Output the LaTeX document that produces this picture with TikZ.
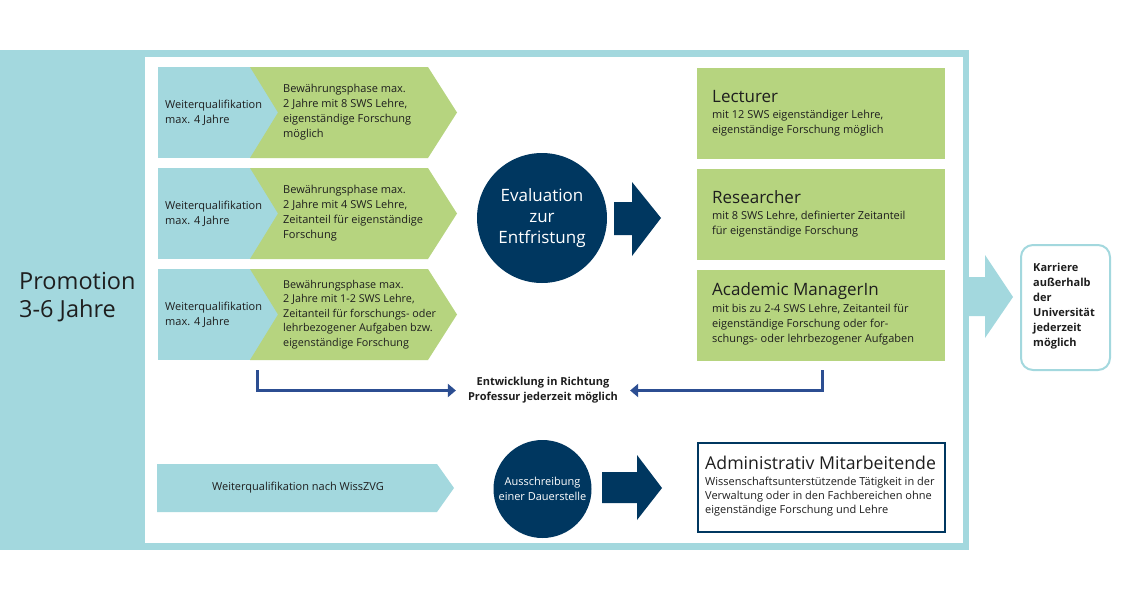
\documentclass[tikz,border=0pt]{standalone}
\usepackage{fontspec}
\setmainfont{Open Sans}
\usetikzlibrary{arrows.meta,positioning,calc}
\definecolor{lightblue}{RGB}{163,216,222}
\definecolor{leafgreen}{RGB}{182,212,127}
\definecolor{navy}{RGB}{0,55,96}
\definecolor{linkblue}{RGB}{44,78,146}
\definecolor{ink}{RGB}{30,30,30}
\tikzstyle{Rolebox}=[shape=rectangle,fill=leafgreen,minimum width=248pt,minimum height=91pt,inner sep=0pt]
\tikzstyle{Navycirc}=[shape=circle,fill=navy,text=white,align=center,inner sep=0pt]
\tikzstyle{smalltext}=[font=\fontsize{11}{15}\selectfont,align=left,anchor=west,inner sep=0pt,text=ink]
\tikzstyle{titletext}=[font=\fontsize{17}{20}\selectfont,anchor=west,inner sep=0pt,text=ink]
\tikzstyle{devedge}=[-{Triangle[length=8pt,width=13pt]},draw=linkblue,line width=3pt]

\begin{document}
\begin{tikzpicture}[x=1pt,y=-1pt]
\useasboundingbox (0,0) rectangle (1125,600);

% frame
\fill[lightblue] (0,50) rectangle (969,550);
\fill[white] (145,57) rectangle (963,543);
\node[font=\fontsize{23.5}{28}\selectfont,align=left,anchor=west,inner sep=0pt,text=ink] (promo) at (19,297.5) {Promotion\\3-6 Jahre};

% rows
\foreach \t/\b in {67/158,168/259,269/360}{
  \fill[lightblue] (158,\t) rectangle (278,\b);
  \fill[leafgreen] (250,\t) -- (428,\t) -- (457,{(\t+\b)/2}) -- (428,\b) -- (250,\b) -- (278,{(\t+\b)/2}) -- cycle;
}
\node[smalltext] (wq1) at (165,112.5) {Weiterqualifikation\\max. 4 Jahre};
\node[smalltext] (wq2) at (165,213.5) {Weiterqualifikation\\max. 4 Jahre};
\node[smalltext] (wq3) at (165,314.5) {Weiterqualifikation\\max. 4 Jahre};
\node[smalltext] (bw1) at (283,112.5) {Bewährungsphase max.\\2 Jahre mit 8 SWS Lehre,\\eigenständige Forschung\\möglich};
\node[smalltext] (bw2) at (283,213.5) {Bewährungsphase max.\\2 Jahre mit 4 SWS Lehre,\\Zeitanteil für eigenständige\\Forschung};
\node[smalltext,font=\fontsize{10.8}{14.5}\selectfont] (bw3) at (283,314.5) {Bewährungsphase max.\\2 Jahre mit 1-2 SWS Lehre,\\Zeitanteil für forschungs- oder\\lehrbezogener Aufgaben bzw.\\eigenständige Forschung};

% evaluation
\node[Navycirc,minimum size=130pt,font=\fontsize{17}{21}\selectfont] (eval) at (542,218) {Evaluation\\zur\\Entfristung};
\fill[navy] (614,202) -- (632,202) -- (632,182) -- (661,218) -- (632,256) -- (632,235) -- (614,235) -- cycle;

% roles
\node[Rolebox] (lecturer) at (821,113.5) {};
\node[Rolebox] (researcher) at (821,214.5) {};
\node[Rolebox] (manager) at (821,315.5) {};
\node[titletext] (lectitle) at (712,97) {Lecturer};
\node[smalltext] (lectext) at (712,123.5) {mit 12 SWS eigenständiger Lehre,\\eigenständige Forschung möglich};
\node[titletext] (restitle) at (712,197) {Researcher};
\node[smalltext] (restext) at (712,224.5) {mit 8 SWS Lehre, definierter Zeitanteil\\für eigenständige Forschung};
\node[titletext] (mantitle) at (712,291) {Academic ManagerIn};
\node[smalltext] (mantext) at (712,325) {mit bis zu 2-4 SWS Lehre, Zeitanteil für\\eigenständige Forschung oder for-\\schungs- oder lehrbezogener Aufgaben};

% exit
\fill[lightblue] (963,277) -- (985,277) -- (985,255) -- (1013,297) -- (985,338) -- (985,316) -- (963,316) -- cycle;
\node[shape=rectangle,draw=lightblue,line width=2pt,fill=white,rounded corners=12pt,minimum width=89pt,minimum height=125pt] (exit) at (1065.5,307.5) {};
\node[smalltext,font=\bfseries\fontsize{11}{15}\selectfont] (exittext) at (1033,306.5) {Karriere\\außerhalb\\der\\Universität\\jederzeit\\möglich};

% development
\node[font=\bfseries\fontsize{11}{15}\selectfont,align=center,inner xsep=12pt,inner ysep=0pt,text=ink] (develop) at (543,390.5) {Entwicklung in Richtung\\Professur jederzeit möglich};
\coordinate (devL) at (257,370);
\coordinate (devR) at (822,370);
\draw[devedge] (devL) |- (develop.west);
\draw[devedge] (devR) |- (develop.east);

% permanent
\fill[lightblue] (157,464) -- (437,464) -- (454,488) -- (437,512) -- (157,512) -- cycle;
\node[font=\fontsize{11}{15}\selectfont,inner sep=0pt,text=ink] (wqz) at (298,488) {Weiterqualifikation nach WissZVG};
\node[Navycirc,minimum size=98pt,font=\fontsize{11}{15}\selectfont] (ausschr) at (542.5,489) {Ausschreibung\\einer Dauerstelle};
\fill[navy] (602,472) -- (637,472) -- (637,455) -- (662,488) -- (637,520) -- (637,503) -- (602,503) -- cycle;
\node[shape=rectangle,draw=navy,line width=2pt,fill=white,minimum width=247pt,minimum height=89pt] (admin) at (821.5,487.5) {};
\node[titletext,font=\fontsize{17.7}{20}\selectfont] (admtitle) at (705,463) {Administrativ Mitarbeitende};
\node[smalltext,font=\fontsize{11}{14}\selectfont] (admtext) at (705,497) {Wissenschaftsunterstützende Tätigkeit in der\\Verwaltung oder in den Fachbereichen ohne\\eigenständige Forschung und Lehre};
\end{tikzpicture}
\end{document}
